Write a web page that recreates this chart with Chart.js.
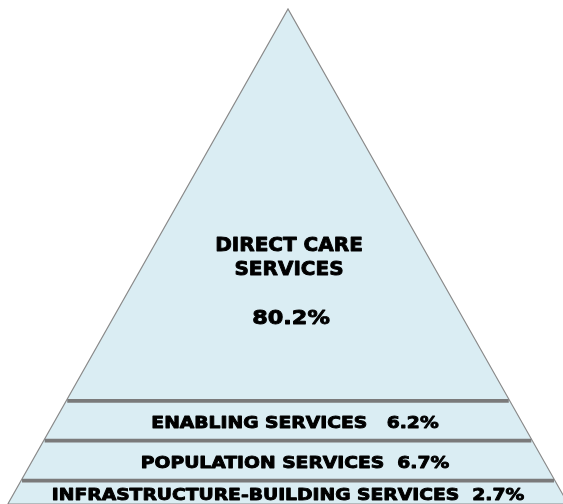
<!DOCTYPE html>
<html>
<head>
<meta charset="utf-8">
<script src="https://cdn.jsdelivr.net/npm/chart.js@4.4.1/dist/chart.umd.min.js"></script>
<style>
  html, body { margin: 0; padding: 0; background: #ffffff; }
  #wrap { width: 563px; height: 504px; position: relative; }
</style>
</head>
<body>
<div id="wrap"><canvas id="chart"></canvas></div>
<script>
// tiers of the pyramid, apex first
const tierNames = ['DIRECT CARE SERVICES', 'ENABLING SERVICES', 'POPULATION SERVICES', 'INFRASTRUCTURE-BUILDING SERVICES'];
const tierShares = [80.2, 6.2, 6.7, 2.7];

// drawing layout (in axis units, which match the canvas size)
const apexX = 288, apexY = 9, baseY = 504;
const leftSlope = 0.566, rightSlope = 0.566;
const tierTops = [apexY, 400.8, 440.7, 480.7];
const labelShift = [1, 7, 7, 0];

const leftEdge = y => apexX - leftSlope * (y - apexY);
const rightEdge = y => apexX + rightSlope * (y - apexY);

const outline = [
    {x: leftEdge(baseY), y: baseY},
    {x: apexX, y: apexY},
    {x: rightEdge(baseY), y: baseY},
    {x: leftEdge(baseY), y: baseY}
];

// lower order is drawn on top, so the dividers sit over the fill
const dividers = tierTops.slice(1).map(y => ({
    type: 'line',
    order: 0,
    data: [{x: leftEdge(y) + 1, y}, {x: rightEdge(y) - 1, y}],
    borderColor: '#7a7a7a',
    borderWidth: 3.8,
    pointRadius: 0,
    fill: false
}));

// bold text, stretched sideways around its centre
function boldText(ctx, text, px, py, stretch) {
    ctx.save();
    ctx.translate(px, py);
    ctx.scale(stretch, 1);
    ctx.fillText(text, 0, 0);
    ctx.strokeText(text, 0, 0);
    ctx.restore();
}

const tierLabels = {
    id: 'tierLabels',
    afterDatasetsDraw(chart) {
        const {ctx, scales: {x, y}} = chart;
        ctx.save();
        ctx.fillStyle = '#000000';
        ctx.strokeStyle = '#000000';
        ctx.lineWidth = 0.9;
        ctx.lineJoin = 'round';
        ctx.textAlign = 'center';
        ctx.textBaseline = 'alphabetic';
        // apex tier: name split over two lines, share below
        ctx.font = 'bold 20px "DejaVu Sans", Verdana, sans-serif';
        const words = tierNames[0].split(' ');
        const cx = x.getPixelForValue(apexX + labelShift[0]);
        boldText(ctx, words.slice(0, 2).join(' '), cx, y.getPixelForValue(250.5), 1.0);
        boldText(ctx, words.slice(2).join(' '), cx, y.getPixelForValue(274.5), 1.0);
        boldText(ctx, tierShares[0].toFixed(1) + '%', x.getPixelForValue(apexX + 3), y.getPixelForValue(323.5), 1.12);
        // lower tiers: one line each, centred in the band
        ctx.font = 'bold 16px "DejaVu Sans", Verdana, sans-serif';
        const gaps = ['', '   ', '  ', '  '];
        for (let i = 1; i < tierNames.length; i++) {
            const top = tierTops[i];
            const bottom = i + 1 < tierTops.length ? tierTops[i + 1] : baseY;
            const mid = (top + bottom) / 2;
            boldText(ctx, tierNames[i] + gaps[i] + tierShares[i].toFixed(1) + '%',
                x.getPixelForValue(apexX + labelShift[i]), y.getPixelForValue(mid + 7.5), 1.17);
        }
        ctx.restore();
    }
};

new Chart(document.getElementById('chart'), {
    type: 'scatter',
    data: {
        datasets: [
            {
                type: 'line',
                order: 1,
                data: outline,
                borderColor: '#8a8a8a',
                borderWidth: 1.2,
                backgroundColor: '#daedf3',
                fill: 'shape',
                pointRadius: 0,
                tension: 0
            },
            ...dividers
        ]
    },
    options: {
        responsive: true,
        maintainAspectRatio: false,
        animation: false,
        layout: {padding: 0},
        plugins: {
            legend: {display: false},
            tooltip: {enabled: false}
        },
        scales: {
            x: {type: 'linear', min: 0, max: 563, display: false},
            y: {type: 'linear', min: 0, max: 504, reverse: true, display: false}
        }
    },
    plugins: [tierLabels]
});
</script>
</body>
</html>
